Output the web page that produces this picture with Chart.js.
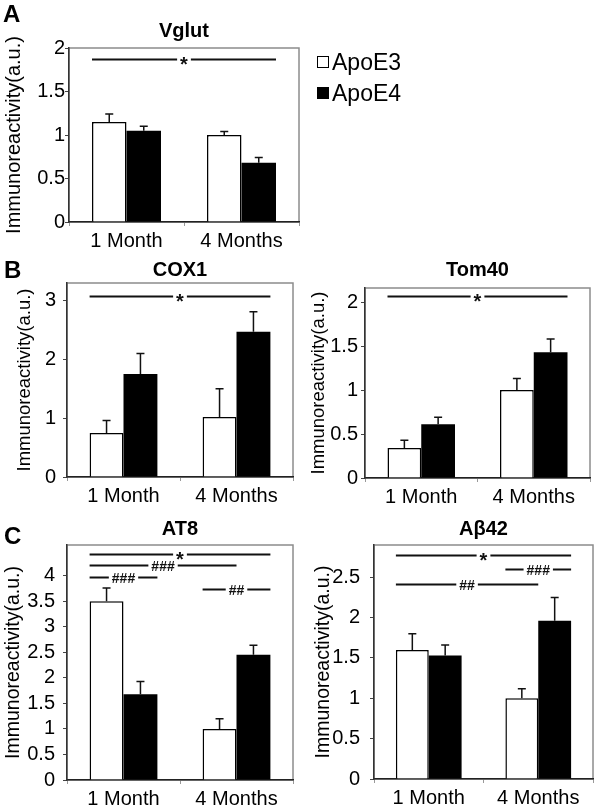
<!DOCTYPE html>
<html>
<head>
<meta charset="utf-8">
<script src="https://cdn.jsdelivr.net/npm/chart.js@4.4.0/dist/chart.umd.min.js"></script>
<style>
  body{margin:0;background:#fff;font-family:"Liberation Sans",Arial,sans-serif;}
  #fig{position:relative;width:600px;height:807px;overflow:hidden;background:#fff;}
  .panel{position:absolute;}
  .letter{position:absolute;font-weight:bold;font-size:24px;line-height:24px;color:#000;}
  .leg{position:absolute;display:flex;align-items:center;font-size:23px;line-height:24px;color:#000;}
  .sw{display:inline-block;width:10px;height:10px;border:1.5px solid #000;margin-right:3px;}
</style>
</head>
<body>
<div id="fig"></div>
<script>
// categorias y series
const CATEGORIES = ["1 Month", "4 Months"];
const SERIES = ["ApoE3", "ApoE4"];
const SERIES_FILL = ["#ffffff", "#000000"];
const Y_LABEL = "Immunoreactivity(a.u.)";
const LETTERS = ["A", "B", "C"];

// A - Vglut
const VGLUT_E3 = [1.15, 1.00];
const VGLUT_E4 = [1.05, 0.68];
const VGLUT_E3_ERR = [0.09, 0.04];
const VGLUT_E4_ERR = [0.05, 0.06];
const VGLUT_TICKS = [0, 0.5, 1, 1.5, 2];
const VGLUT_SIG = [[0, 3, 1.87, "*"]];

// B - COX1
const COX1_E3 = [0.75, 1.02];
const COX1_E4 = [1.75, 2.47];
const COX1_E3_ERR = [0.21, 0.48];
const COX1_E4_ERR = [0.35, 0.34];
const COX1_TICKS = [0, 1, 2, 3];
const COX1_SIG = [[0, 3, 3.08, "*"]];

// B - Tom40
const TOM40_E3 = [0.34, 1.00];
const TOM40_E4 = [0.61, 1.43];
const TOM40_E3_ERR = [0.09, 0.13];
const TOM40_E4_ERR = [0.08, 0.15];
const TOM40_TICKS = [0, 0.5, 1, 1.5, 2];
const TOM40_SIG = [[0, 3, 2.07, "*"]];

// C - AT8
const AT8_E3 = [3.50, 1.00];
const AT8_E4 = [1.68, 2.45];
const AT8_E3_ERR = [0.26, 0.20];
const AT8_E4_ERR = [0.25, 0.19];
const AT8_TICKS = [0, 0.5, 1, 1.5, 2, 2.5, 3, 3.5, 4];
const AT8_SIG = [[0, 3, 4.43, "*"], [0, 2, 4.20, "###"], [0, 1, 3.98, "###"], [2, 3, 3.73, "##"]];

// C - Aβ42
const AB42_E3 = [1.60, 1.00];
const AB42_E4 = [1.53, 1.96];
const AB42_E3_ERR = [0.20, 0.12];
const AB42_E4_ERR = [0.13, 0.29];
const AB42_TICKS = [0, 0.5, 1, 1.5, 2, 2.5];
const AB42_SIG = [[0, 3, 2.78, "*"], [2, 3, 2.60, "###"], [0, 2, 2.42, "##"]];

const FONT = '"Liberation Sans", Arial, sans-serif';

// marco gris del area de grafica
const framePlugin = {
  id: "frame",
  beforeDraw(chart){
    const {ctx, chartArea:a} = chart;
    ctx.save();
    ctx.strokeStyle = "#8c8c8c";
    ctx.lineWidth = 1.5;
    ctx.strokeRect(a.left, a.top, a.right - a.left, a.bottom - a.top);
    ctx.restore();
  }
};

// barras de error (solo hacia arriba)
const errorBarPlugin = {
  id: "errorBars",
  afterDatasetsDraw(chart, args, opts){
    const {ctx} = chart;
    const y = chart.scales.y;
    ctx.save();
    ctx.strokeStyle = "#111";
    ctx.lineWidth = 1.5;
    chart.data.datasets.forEach((ds, di)=>{
      const meta = chart.getDatasetMeta(di);
      meta.data.forEach((bar, i)=>{
        const yt = y.getPixelForValue(ds.data[i] + opts.errors[di][i]);
        ctx.beginPath();
        ctx.moveTo(bar.x, bar.y);
        ctx.lineTo(bar.x, yt);
        ctx.moveTo(bar.x - 4, yt);
        ctx.lineTo(bar.x + 4, yt);
        ctx.stroke();
      });
    });
    ctx.restore();
  }
};

// lineas de significancia: [barra desde, barra hasta, valor y, texto]
const sigPlugin = {
  id: "sig",
  afterDatasetsDraw(chart, args, opts){
    const {ctx} = chart;
    const y = chart.scales.y;
    const barAt = k => chart.getDatasetMeta(k % 2).data[Math.floor(k / 2)];
    ctx.save();
    ctx.strokeStyle = "#111";
    ctx.fillStyle = "#111";
    ctx.lineWidth = 2;
    ctx.textAlign = "center";
    ctx.textBaseline = "alphabetic";
    opts.items.forEach(([from, to, v, label])=>{
      const b1 = barAt(from), b2 = barAt(to);
      const x1 = b1.x - b1.width / 2, x2 = b2.x + b2.width / 2;
      const py = Math.round(y.getPixelForValue(v)) + 0.5;
      const star = label === "*";
      const size = star ? 20 : 14;
      ctx.font = "bold " + size + "px " + FONT;
      const w = ctx.measureText(label).width;
      const xc = (x1 + x2) / 2;
      ctx.beginPath();
      ctx.moveTo(x1, py); ctx.lineTo(xc - w / 2 - 3, py);
      ctx.moveTo(xc + w / 2 + 3, py); ctx.lineTo(x2, py);
      ctx.stroke();
      ctx.fillText(label, xc, py + (star ? size * 0.58 : size * 0.36));
    });
    ctx.restore();
  }
};

const fig = document.getElementById("fig");

function makePanel(p){
  const wrap = document.createElement("div");
  wrap.className = "panel";
  wrap.style.left = p.box.left + "px";
  wrap.style.top = p.box.top + "px";
  const cv = document.createElement("canvas");
  cv.width = p.box.width;
  cv.height = p.box.height;
  wrap.appendChild(cv);
  fig.appendChild(wrap);

  const tTop = p.titleY - p.box.top - 12;
  const tBot = p.area.top - p.box.top - tTop - 24;
  const yFontLH = p.yFont * 1.2;

  return new Chart(cv.getContext("2d"), {
    type: "bar",
    data: {
      labels: CATEGORIES,
      datasets: [
        { label: SERIES[0], data: p.e3, backgroundColor: SERIES_FILL[0], borderColor: "#000", borderWidth: 1.5,
          categoryPercentage: 0.6, barPercentage: 1.0 },
        { label: SERIES[1], data: p.e4, backgroundColor: SERIES_FILL[1], borderColor: "#000", borderWidth: 0,
          categoryPercentage: 0.6, barPercentage: 1.0 }
      ]
    },
    options: {
      responsive: false,
      animation: false,
      layout: { padding: { left: 0, top: 0, bottom: 0, right: p.box.left + p.box.width - p.area.right } },
      plugins: {
        legend: { display: false },
        tooltip: { enabled: false },
        title: {
          display: true, text: p.title, fullSize: false, color: "#000",
          font: { family: FONT, size: 20, weight: "bold", lineHeight: 1.2 },
          padding: { top: tTop, bottom: tBot }
        },
        errorBars: { errors: [p.e3Err, p.e4Err] },
        sig: { items: p.sig }
      },
      scales: {
        x: {
          grid: { drawOnChartArea: false, drawTicks: true, tickLength: 4, color: "#999", lineWidth: 1 },
          border: { color: "#222", width: 1.5 },
          ticks: { color: "#000", font: { family: FONT, size: 20 }, padding: 3, maxRotation: 0, autoSkip: false },
          afterFit: s => { s.height = p.box.top + p.box.height - p.area.bottom; }
        },
        y: {
          min: 0, max: p.max,
          afterBuildTicks: s => { s.ticks = p.ticks.map(v => ({ value: v })); },
          grid: { drawOnChartArea: false, drawTicks: true, tickLength: 4, color: "#444", lineWidth: 1 },
          border: { color: "#333", width: 1.5 },
          ticks: { color: "#000", font: { family: FONT, size: 20 }, padding: p.tickPad,
                   callback: v => String(Number(v)) },
          title: {
            display: true, text: Y_LABEL, color: "#000",
            font: { family: FONT, size: p.yFont, lineHeight: 1.2 },
            padding: { top: p.yTitleX - p.box.left - yFontLH / 2, bottom: 0 }
          },
          afterFit: s => { s.width = p.area.left - p.box.left; }
        }
      }
    },
    plugins: [framePlugin, errorBarPlugin, sigPlugin]
  });
}

makePanel({ title: "Vglut", e3: VGLUT_E3, e4: VGLUT_E4, e3Err: VGLUT_E3_ERR, e4Err: VGLUT_E4_ERR,
  ticks: VGLUT_TICKS, max: 2, sig: VGLUT_SIG,
  box: { left: 0, top: 0, width: 320, height: 252 }, area: { left: 69, top: 48, right: 299, bottom: 222 },
  titleY: 31.5, yTitleX: 14, yFont: 20, tickPad: 0 });

makePanel({ title: "COX1", e3: COX1_E3, e4: COX1_E4, e3Err: COX1_E3_ERR, e4Err: COX1_E4_ERR,
  ticks: COX1_TICKS, max: 3.3, sig: COX1_SIG,
  box: { left: 0, top: 250, width: 300, height: 257 }, area: { left: 67, top: 283, right: 293, bottom: 477 },
  titleY: 270, yTitleX: 25, yFont: 18.5, tickPad: 7 });

makePanel({ title: "Tom40", e3: TOM40_E3, e4: TOM40_E4, e3Err: TOM40_E3_ERR, e4Err: TOM40_E4_ERR,
  ticks: TOM40_TICKS, max: 2.16, sig: TOM40_SIG,
  box: { left: 300, top: 250, width: 300, height: 258 }, area: { left: 365, top: 288, right: 590, bottom: 478 },
  titleY: 270, yTitleX: 319, yFont: 18.5, tickPad: 3 });

makePanel({ title: "AT8", e3: AT8_E3, e4: AT8_E4, e3Err: AT8_E3_ERR, e4Err: AT8_E4_ERR,
  ticks: AT8_TICKS, max: 4.6, sig: AT8_SIG,
  box: { left: 0, top: 505, width: 300, height: 302 }, area: { left: 67, top: 545, right: 293, bottom: 780 },
  titleY: 529, yTitleX: 14, yFont: 19.5, tickPad: 8 });

makePanel({ title: "Aβ42", e3: AB42_E3, e4: AB42_E4, e3Err: AB42_E3_ERR, e4Err: AB42_E4_ERR,
  ticks: AB42_TICKS, max: 2.9, sig: AB42_SIG,
  box: { left: 300, top: 505, width: 300, height: 302 }, area: { left: 374, top: 545, right: 593, bottom: 779 },
  titleY: 529, yTitleX: 324, yFont: 19.5, tickPad: 10 });

// leyenda
SERIES.forEach((name, i)=>{
  const d = document.createElement("div");
  d.className = "leg";
  d.style.left = "317px";
  d.style.top = (50 + i * 31) + "px";
  d.innerHTML = '<span class="sw" style="background:' + SERIES_FILL[i] + '"></span>' + name;
  fig.appendChild(d);
});

// letras de panel
[[3, 1.5], [4, 258], [4, 524]].forEach(([x, y], i)=>{
  const d = document.createElement("div");
  d.className = "letter";
  d.style.left = x + "px";
  d.style.top = y + "px";
  d.textContent = LETTERS[i];
  fig.appendChild(d);
});
</script>
</body>
</html>
